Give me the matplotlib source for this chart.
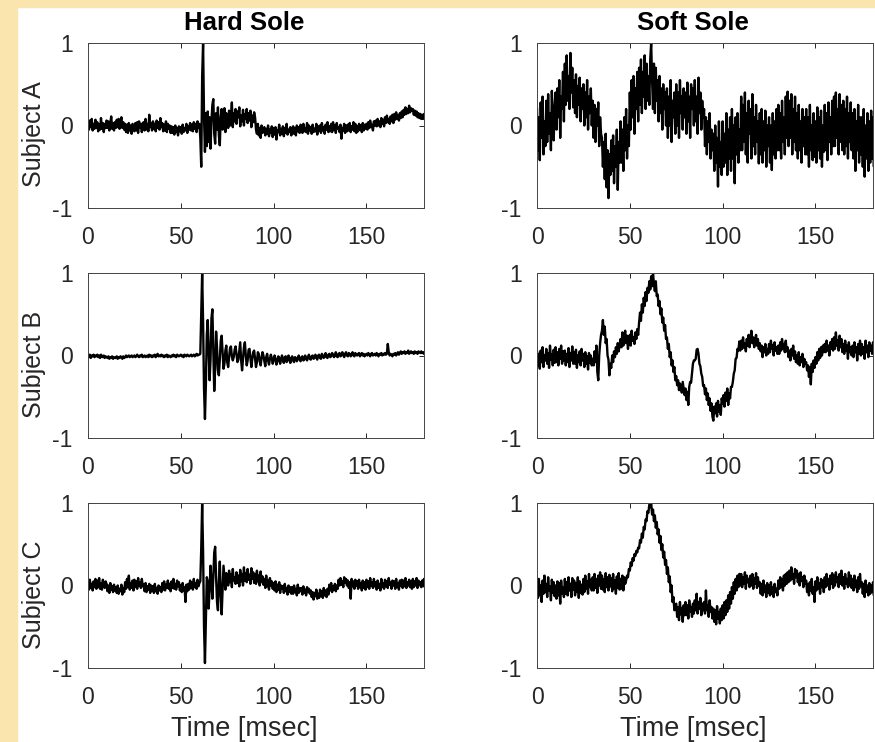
import numpy as np
import matplotlib
matplotlib.use("Agg")
import matplotlib.pyplot as plt
from matplotlib.patches import Rectangle

plt.rcParams['font.family'] = ['Liberation Sans', 'DejaVu Sans']
plt.rcParams['axes.unicode_minus'] = False

# sample spacing of the traces below, msec
dt = 0.5
# amplitudes are in 1/100 of normalised units, one row = 5 msec
hard_a = [
    3, -5, 6, -2, 8, -6, 2, -4, 7, -3,
    4, -7, 1, -5, 9, -4, 3, -8, 2, -3,
    6, -3, 5, -6, 2, 11, -4, 3, -6, 4,
    -3, 7, -2, 8, -4, 5, 10, -3, 4, -5,
    2, -8, 1, -9, 3, -6, 0, -10, 2, -5,
    -7, 3, -6, 4, -9, 5, -3, 2, -8, 3,
    4, -6, 8, -5, 2, -7, 13, -2, 3, -6,
    5, -4, 2, -7, 6, -3, 4, -5, 9, -2,
    3, -7, 1, -6, 5, -8, 2, -4, 0, -9,
    -1, -9, -2, -11, 0, -8, -3, -12, -1, -7,
    -2, -10, 1, -8, -3, -6, 2, -9, -1, -5,
    3, -6, 1, -7, 4, -4, 2, -8, 5, -3,
    2, -15, -50, 60, 100, 10, -32, 15, -25, 17,
    -20, 10, -28, 5, 25, 32, -10, -22, 15, -5,
    22, -12, -24, 10, 20, -5, 5, 21, -8, 15,
    12, -3, 18, 0, 10, 28, -2, 15, 5, 20,
    2, 17, 10, 22, -1, 12, 5, 19, 0, 14,
    8, 20, 3, 15, 6, 18, -2, 12, 4, 16,
    10, -5, -10, 2, -12, -3, -15, 0, -9, -4,
    -2, -12, -4, -10, 0, -13, -5, -9, -1, -14,
    -3, -11, -2, -17, -6, -8, 1, -12, -4, -10,
    -1, -13, -3, -9, 2, -11, -5, -8, -2, -12,
    -8, -1, -10, -3, -12, 0, -7, -2, -9, 1,
    -1, -9, 2, -7, -3, -8, 3, -10, 0, -6,
    -2, -10, 1, -8, -4, -7, 2, -11, -1, -6,
    0, -9, 3, -6, -2, -10, 1, -5, 4, -8,
    -1, -7, 2, -8, 4, -5, 0, -9, 3, -4,
    -2, -8, 1, -16, -3, -6, 2, -9, 0, -7,
    1, -6, 3, -8, -1, -5, 4, -7, 2, -9,
    -1, -7, 2, -5, 0, -8, 3, -6, 1, -4,
    2, -5, 4, -3, 6, -2, 1, -6, 5, 0,
    6, -1, 8, 0, 5, -2, 9, 2, 7, -1,
    10, 3, 12, 4, 8, 2, 11, 5, 13, 3,
    14, 7, 16, 8, 12, 6, 15, 9, 17, 10,
    19, 13, 22, 14, 20, 15, 24, 16, 21, 18,
    20, 13, 18, 12, 17, 10, 15, 9, 14, 8,
    13, 8, 14, 9, 12, 7, 13, 9, 11, 8,
]
soft_a = [
    20, -30, 10, -42, 28, -15, 35, -35, 5, -25,
    30, -20, 38, -10, 15, -30, 42, 0, -18, 25,
    40, -5, 45, 10, 55, -15, 35, 20, 65, 5,
    75, 25, 85, 30, 60, 20, 88, 40, 70, 22,
    55, 15, 62, 10, 48, 25, 58, 5, 45, 20,
    50, 0, 40, 10, 55, -5, 35, 15, 45, 0,
    30, -15, 25, -20, 20, 0, 28, -25, 10, -10,
    -15, -50, -20, -65, -10, -75, -30, -88, -35, -60,
    -18, -55, -12, -70, -25, -50, -5, -78, -20, -45,
    5, -45, -5, -55, 10, -30, 20, -40, 0, -25,
    40, -5, 55, 10, 60, -10, 45, 20, 65, 5,
    70, 25, 80, 15, 65, 35, 85, 20, 75, 30,
    60, 25, 80, 100, 55, 20, 75, 15, 70, 30,
    55, 5, 60, 15, 45, -5, 50, 20, 40, 0,
    45, -15, 35, 0, 55, -20, 30, 10, 40, -10,
    50, 0, 40, -15, 55, 15, 35, -5, 45, 10,
    40, -10, 52, 5, 35, -15, 50, 20, 45, 0,
    55, 5, 35, -10, 58, 15, 40, -5, 30, 10,
    20, -25, 10, -35, 5, -20, 15, -40, -5, -30,
    -10, -55, 0, -45, -15, -74, 5, -50, -20, -60,
    5, -50, -10, -45, 15, -60, -5, -40, 10, -55,
    20, -40, 0, -70, 10, -35, 15, -45, -5, -30,
    35, -30, 25, -20, 40, -35, 15, -45, 30, -10,
    20, -40, 38, -25, 10, -35, 25, -20, 5, -46,
    15, -35, 20, -45, 5, -30, 18, -50, 0, -25,
    10, -45, 0, -54, 15, -35, 5, -40, 20, -30,
    25, -30, 15, -40, 30, -20, 10, -35, 35, -15,
    41, -25, 30, -15, 38, -35, 20, -20, 35, -30,
    15, -40, 25, -30, 5, -45, 20, -25, 10, -35,
    20, -35, 10, -50, 25, -30, 0, -42, 15, -38,
    5, -45, 22, -30, 10, -40, 18, -50, 0, -32,
    25, -30, 15, -42, 28, -20, 10, -35, 30, -25,
    35, -25, 40, -15, 20, -35, 38, -20, 25, -30,
    30, -35, 20, -25, 35, -40, 15, -20, 28, -30,
    15, -40, 20, -55, 5, -30, 25, -45, 10, -35,
    10, -50, 20, -62, 0, -40, 15, -55, 5, -45,
    18, -40, 10, -50, 20, -35, 5, -45, 15, -30,
]
hard_b = [
    0, -2, 1, -3, 0, -1, 1, -2, 0, -1,
    1, -2, 0, -3, 1, -1, -2, 0, -3, -1,
    -2, -3, -1, -4, -2, -3, -1, -4, -2, -3,
    -3, -1, -4, -2, -3, -1, -2, -4, -1, -3,
    -2, 0, -2, -1, 0, -2, -1, 0, -2, -1,
    0, -2, -1, 1, -1, -2, 0, -1, 1, -2,
    -1, 0, -2, -1, 0, -2, 1, -1, 0, -2,
    0, -1, 1, -2, 0, 2, -1, 0, -1, 1,
    -1, 0, -2, 0, -1, 1, -2, 0, -1, -2,
    0, -1, 1, -1, 0, -2, 1, 0, -1, 0,
    1, -1, 0, -2, 1, 0, -1, 1, 0, -1,
    0, 1, -1, 0, 1, -1, 0, 2, 0, 1,
    1, 2, 50, 100, 40, -40, -77, -35, 25, 43,
    5, -30, -5, 45, 56, 5, -43, -15, 29, 10,
    -18, -24, -5, 18, 24, 5, -16, -10, 6, 12,
    -8, -14, -2, 9, 11, -1, -6, -2, 7, 11,
    2, -8, -5, 6, 16, -6, -18, -4, 10, 16,
    0, -12, -6, 7, 8, -3, -14, -4, 4, 6,
    -4, -14, -8, 4, 2, -7, -12, -3, 4, 0,
    -7, -13, -2, 2, -6, -11, -4, 1, -3, -10,
    -6, 0, -4, -11, -7, -1, -3, -10, -5, 0,
    -6, -9, -2, -1, -8, -6, 0, -4, -9, -3,
    -1, -6, -8, -2, -3, -7, -4, 0, -5, -7,
    -2, -1, -6, -5, 0, -3, -6, -2, 1, -4,
    -5, -1, 0, -4, -3, 1, -2, -5, 0, 1,
    -3, -4, 2, 0, -3, -1, 3, -2, -3, 1,
    2, -2, -1, 3, 1, -2, 0, 4, -1, -2,
    2, 3, -1, 0, 4, 1, -2, 2, 4, 0,
    -1, 3, 2, -1, 1, 4, 0, -1, 3, 1,
    0, 2, 3, -1, 1, 3, 0, 2, -1, 1,
    2, 0, 3, 1, -1, 2, 3, 0, 1, 2,
    0, 3, 1, -1, 2, 1, 3, 0, 2, 1,
    3, 1, 2, 14, 4, 0, 2, 1, -1, 2,
    1, 3, 0, 2, 4, 1, 3, 5, 2, 4,
    3, 5, 2, 4, 3, 6, 2, 4, 5, 3,
    4, 2, 5, 3, 4, 2, 5, 4, 3, 5,
    3, 4, 2, 4, 3, 5, 3, 4, 2, 3,
]
soft_b = [
    5, -12, 2, -16, 6, -8, 10, -14, 0, -6,
    8, -10, 3, -15, 12, -5, 1, -12, 7, -9,
    10, -8, 4, -12, 8, -4, 12, -10, 5, -6,
    6, -12, 2, -8, 9, -14, 3, -6, 11, -10,
    4, -10, 7, -15, 0, -8, 5, -12, 8, -6,
    2, -14, 4, -10, -1, -17, 3, -9, 0, -12,
    -4, -12, 5, -8, 12, -20, -30, 0, 15, 25,
    30, 43, 25, 35, 15, 20, 0, -5, -24, -10,
    -15, 0, -8, 5, -2, 10, 2, 15, 5, 12,
    20, 10, 28, 12, 22, 30, 15, 24, 8, 20,
    25, 12, 30, 18, 22, 14, 28, 20, 32, 25,
    40, 52, 42, 62, 52, 70, 60, 77, 66, 82,
    76, 90, 80, 96, 84, 100, 86, 78, 90, 72,
    74, 60, 66, 50, 57, 40, 46, 30, 37, 20,
    22, 8, 14, -2, 4, -12, -6, -20, -14, -30,
    -25, -36, -30, -42, -34, -38, -45, -32, -40, -48,
    -40, -54, -44, -60, -38, -32, -33, -22, -10, -6,
    -6, -4, 7, 8, 2, -10, -13, -22, -26, -37,
    -36, -47, -40, -54, -46, -60, -52, -67, -58, -74,
    -79, -62, -70, -58, -74, -55, -68, -60, -72, -52,
    -58, -48, -62, -45, -55, -40, -60, -46, -52, -38,
    -38, -32, -22, -18, -4, -3, 8, 6, 17, 6,
    18, 8, 22, 10, 15, 5, 20, 12, 25, 10,
    20, 30, 15, 22, 10, 18, 25, 12, 20, 8,
    15, 5, 12, -2, 10, 4, 14, 0, 8, 2,
    14, 4, 18, 8, 12, 0, 16, 6, 10, 2,
    12, 2, 16, 6, 20, 8, 14, 4, 18, 5,
    10, -2, 6, -6, 8, 0, 12, -4, 5, -8,
    0, -10, 4, -12, -2, -8, 2, -14, -4, -10,
    -8, -18, -12, -26, -14, -35, -10, -20, -6, -15,
    -2, -10, 4, -6, 8, -3, 10, 0, 12, 4,
    14, 4, 18, 6, 12, 0, 16, 8, 20, 6,
    22, 8, 28, 12, 18, 6, 24, 10, 20, 4,
    14, 2, 18, 6, 12, -4, 16, 4, 10, 0,
    12, -2, 16, 4, 10, -6, 14, 2, 18, 0,
    14, 2, 10, -4, 18, 4, 12, -2, 16, 6,
    12, 2, 16, 4, 10, 0, 14, 6, 12, 2,
]
hard_c = [
    4, -5, 7, -3, 2, -6, 5, -2, 8, -4,
    6, -2, 9, -4, 3, -5, 7, 0, -3, 5,
    2, -7, 0, -9, 3, -5, -1, -8, 1, -6,
    -2, -9, 0, -10, -4, -7, 1, -11, -3, -8,
    4, -4, 8, -2, 12, -5, 3, -3, 6, -6,
    7, -2, 5, -4, 9, 0, 4, -3, 8, -1,
    1, -7, 3, -8, -1, -5, 2, -9, 0, -6,
    -1, -9, 2, -7, -3, -10, 0, -6, -2, -8,
    3, -5, 5, -6, 1, -3, 6, -4, 2, -7,
    5, -3, 8, -4, 2, -5, 6, -1, 4, -6,
    0, -8, 3, -6, -2, -20, 1, -7, 2, -5,
    6, -3, 4, -5, 8, -2, 3, -4, 7, -1,
    3, 5, 45, 100, 40, -50, -94, -40, 10, 5,
    -28, -5, 24, 5, -16, 10, 40, 47, 10, -20,
    -30, 5, 29, -10, -35, -5, 24, 10, -5, 15,
    12, 0, 18, 4, 14, -2, 20, 6, 10, 2,
    16, 3, 12, -1, 19, 5, 14, 0, 22, 6,
    15, 4, 20, 7, 13, 2, 21, 8, 16, 3,
    14, 2, 18, 5, 12, 0, 17, 4, 11, 1,
    8, -3, 12, -1, 6, -5, 9, 0, 5, -4,
    3, -6, 5, -8, 1, -5, 4, -9, 0, -4,
    -1, -9, 2, -7, -3, -11, 0, -8, -2, -10,
    -2, -10, 0, -8, -4, -12, 1, -9, -3, -7,
    -3, -11, -1, -9, -5, -12, -2, -8, -4, -10,
    -6, -14, -8, -17, -9, -13, -5, -16, -10, -15,
    -5, -13, -7, -15, -3, -12, -6, -14, -4, -11,
    1, -6, 3, -8, -1, -5, 2, -7, 0, -4,
    7, 0, 9, 1, 5, -2, 10, 3, 8, 0,
    6, -3, 4, -16, 8, -1, 5, -4, 7, 0,
    5, -4, 7, -2, 3, -6, 6, -3, 4, -5,
    7, -2, 5, -4, 9, 0, 4, -3, 8, -1,
    4, -5, 6, -3, 2, -6, 8, -2, 3, -4,
    7, -1, 5, -3, 9, 1, 4, -4, 6, 0,
    5, -4, 8, -2, 3, -5, 6, 0, 7, -3,
    6, -1, 9, -3, 4, 0, 7, -2, 5, -4,
    8, -2, 5, 0, 9, -3, 6, 1, 4, -2,
    6, -1, 8, 0, 5, -3, 7, 1, 4, -2,
]
soft_c = [
    5, -15, 8, -12, 0, -20, 6, -10, 12, -8,
    2, -14, 10, -6, -1, -18, 7, -9, 4, -13,
    0, -16, 5, -12, 3, -22, 6, -10, -2, -14,
    8, -10, 4, -12, 10, -6, 2, -14, 9, -5,
    6, -12, 3, -8, 10, -15, 5, -9, 1, -11,
    8, -8, 12, -4, 5, -10, 14, -2, 7, -6,
    10, -6, 14, -3, 8, -9, 12, 0, 16, -4,
    12, -5, 8, -8, 15, -2, 10, -6, 13, -1,
    9, -7, 14, -4, 6, -10, 11, -3, 15, -5,
    8, -4, 12, -6, 10, 2, 6, 12, 10, 20,
    18, 28, 24, 33, 30, 38, 36, 42, 40, 46,
    45, 55, 52, 63, 58, 71, 68, 80, 78, 90,
    88, 98, 95, 100, 86, 92, 78, 85, 70, 77,
    62, 68, 52, 60, 43, 50, 34, 41, 25, 31,
    14, 22, 4, 11, -8, 0, -20, -14, -30, -24,
    -22, -38, -26, -42, -20, -35, -28, -44, -24, -36,
    -20, -36, -24, -40, -18, -32, -26, -38, -22, -34,
    -18, -30, -10, -34, -20, -28, -15, -36, -22, -30,
    -20, -34, -6, -30, -24, -38, -18, -32, -26, -40,
    -28, -44, -30, -47, -25, -40, -32, -46, -28, -42,
    -24, -40, -20, -36, -18, -32, -12, -28, -8, -22,
    -2, -16, 4, -10, 8, -6, 12, -2, 14, 0,
    14, -2, 10, 2, 16, -4, 12, 4, 8, -2,
    12, 0, 14, -4, 9, 2, 15, -3, 10, 0,
    4, -10, 2, -12, 6, -8, 0, -14, 3, -9,
    0, -12, 4, -10, -2, -14, 2, -8, -4, -12,
    6, -4, 10, -2, 8, -6, 12, 0, 14, 2,
    16, 4, 18, 6, 22, 8, 14, 2, 20, 10,
    18, 4, 14, 0, 16, 6, 10, -2, 12, 2,
    6, -8, 2, -12, 4, -6, 8, -10, -2, -20,
    5, -6, 10, -4, 3, -10, 8, -2, 6, -8,
    10, -2, 14, 0, 8, -5, 12, 2, 15, -3,
    12, 0, 16, 4, 10, -2, 14, 2, 18, 0,
    10, -4, 14, 2, 8, -2, 16, 0, 12, -3,
    8, -6, 12, -2, 6, -8, 10, -4, 14, -1,
    4, -10, 2, -14, 6, -8, 0, -12, 3, -10,
    0, -8, 4, -12, 2, -6, -2, -10, 1, -7,
]

col_titles = ["Hard Sole", "Soft Sole"]
row_labels = ["Subject A", "Subject B", "Subject C"]
traces = [[hard_a, soft_a], [hard_b, soft_b], [hard_c, soft_c]]
xticks = [0, 50, 100, 150]
yticks = [-1, 0, 1]

W, H = 875, 742
fig = plt.figure(figsize=(W / 100, H / 100), dpi=100)
fig.patch.set_facecolor("white")
# yellowish slide border on the left and top
fig.patches.append(Rectangle((0, 0), 17 / W, 1, transform=fig.transFigure,
                             color="#f9e5ad", zorder=0))
fig.patches.append(Rectangle((0, 1 - 7 / H), 1, 7 / H, transform=fig.transFigure,
                             color="#f9e5ad", zorder=0))

lefts = [88, 537]
tops = [43, 273, 503]
aw, ah = 336, 165
for r in range(3):
    for c in range(2):
        ax = fig.add_axes([lefts[c] / W, 1 - (tops[r] + ah) / H, aw / W, ah / H])
        y = np.array(traces[r][c]) / 100.0
        t = np.arange(len(y)) * dt
        ax.plot(t, y, color="black", lw=1.7)
        ax.set_xlim(0, 181)
        ax.set_ylim(-1, 1)
        ax.set_xticks(xticks)
        ax.set_yticks(yticks)
        ax.tick_params(direction="in", length=3.5, width=0.7, top=True, right=True,
                       labelsize=16.5, colors="#262626")
        ax.tick_params(axis="x", pad=13)
        ax.tick_params(axis="y", pad=11)
        for s in ax.spines.values():
            s.set_linewidth(0.7)
            s.set_color("#444444")
        if r == 0:
            ax.set_title(col_titles[c], fontsize=18.5, fontweight="bold", pad=9, x=0.464)
        if c == 0:
            ax.set_ylabel(row_labels[r], fontsize=18, color="#262626")
            ax.yaxis.set_label_coords(-0.125, 0.445)
        if r == 2:
            ax.set_xlabel("Time [msec]", fontsize=19.5, color="#262626")
            ax.xaxis.set_label_coords(0.465, -0.29)

fig.savefig("out.png", dpi=100)
